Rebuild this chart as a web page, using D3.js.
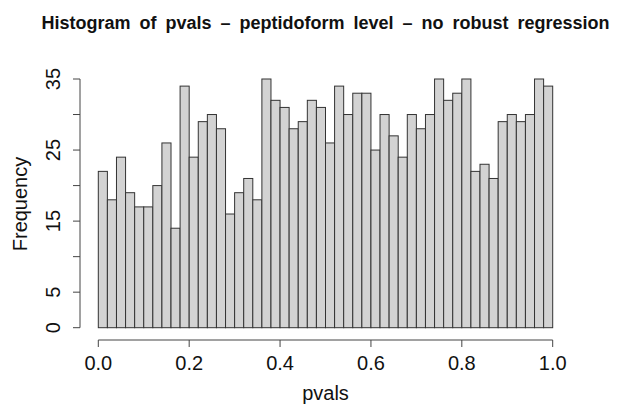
<!DOCTYPE html>
<html>
<head>
<meta charset="utf-8">
<script src="https://cdn.jsdelivr.net/npm/d3@7"></script>
<style>
  body { margin: 0; background: #fff; }
  text { font-family: "Liberation Sans", Arial, sans-serif; fill: #111; }
</style>
</head>
<body>
<svg id="chart" width="621" height="408"></svg>
<script>
// histogram of p-values, 50 bins of width 0.02
const binStart = d3.range(50).map((i) => i / 50);
const counts = [22, 18, 24, 19, 17, 17, 20, 26, 14, 34,
  24, 29, 30, 28, 16, 19, 21, 18, 35, 32,
  31, 28, 29, 32, 31, 26, 34, 30, 33, 33,
  25, 30, 27, 24, 30, 28, 30, 35, 32, 33,
  35, 22, 23, 21, 29, 30, 29, 30, 35, 34];
const xTicks = [0, 0.2, 0.4, 0.6, 0.8, 1.0];
const yTicks = [0, 5, 10, 15, 20, 25, 30, 35];
const yLabels = [0, 5, 15, 25, 35];

const svg = d3.select('#chart');

const x = d3.scaleLinear().domain([0, 1]).range([98.3, 552.7]);
const y = d3.scaleLinear().domain([0, 35]).range([327.7, 79]);

// bars
svg.append('g')
  .selectAll('rect')
  .data(counts)
  .join('rect')
  .attr('x', (d, i) => x(binStart[i]))
  .attr('y', (d) => y(d))
  .attr('width', x(0.02) - x(0))
  .attr('height', (d) => y(0) - y(d))
  .attr('fill', '#d3d3d3')
  .attr('stroke', '#333')
  .attr('stroke-width', 1);

// x axis
const xAxis = svg.append('g').attr('transform', 'translate(0,340)');
xAxis.append('line')
  .attr('x1', x(0)).attr('x2', x(1))
  .attr('stroke', '#444');
xAxis.selectAll('line.tick')
  .data(xTicks)
  .join('line')
  .attr('class', 'tick')
  .attr('x1', (d) => x(d)).attr('x2', (d) => x(d))
  .attr('y1', 0).attr('y2', 7)
  .attr('stroke', '#444');
xAxis.selectAll('text')
  .data(xTicks)
  .join('text')
  .attr('x', (d) => x(d))
  .attr('y', 30)
  .attr('text-anchor', 'middle')
  .attr('font-size', 20)
  .text((d) => d3.format('.1f')(d));

// y axis
const yAxis = svg.append('g').attr('transform', 'translate(80,0)');
yAxis.append('line')
  .attr('y1', y(0)).attr('y2', y(35))
  .attr('stroke', '#444');
yAxis.selectAll('line.tick')
  .data(yTicks)
  .join('line')
  .attr('class', 'tick')
  .attr('y1', (d) => y(d)).attr('y2', (d) => y(d))
  .attr('x1', 0).attr('x2', -7)
  .attr('stroke', '#444');
yAxis.selectAll('text')
  .data(yLabels)
  .join('text')
  .attr('transform', (d) => `translate(-20,${y(d)}) rotate(-90)`)
  .attr('text-anchor', 'middle')
  .attr('font-size', 20)
  .text((d) => d);

// axis titles
svg.append('text')
  .attr('x', 325.5)
  .attr('y', 400)
  .attr('text-anchor', 'middle')
  .attr('font-size', 20)
  .text('pvals');

svg.append('text')
  .attr('transform', 'translate(27,204) rotate(-90)')
  .attr('text-anchor', 'middle')
  .attr('font-size', 20)
  .text('Frequency');

svg.append('text')
  .attr('x', 325.5)
  .attr('y', 29)
  .attr('text-anchor', 'middle')
  .attr('font-size', 18)
  .attr('font-weight', 'bold')
  .attr('word-spacing', 4)
  .text('Histogram of pvals – peptidoform level – no robust regression');
</script>
</body>
</html>
